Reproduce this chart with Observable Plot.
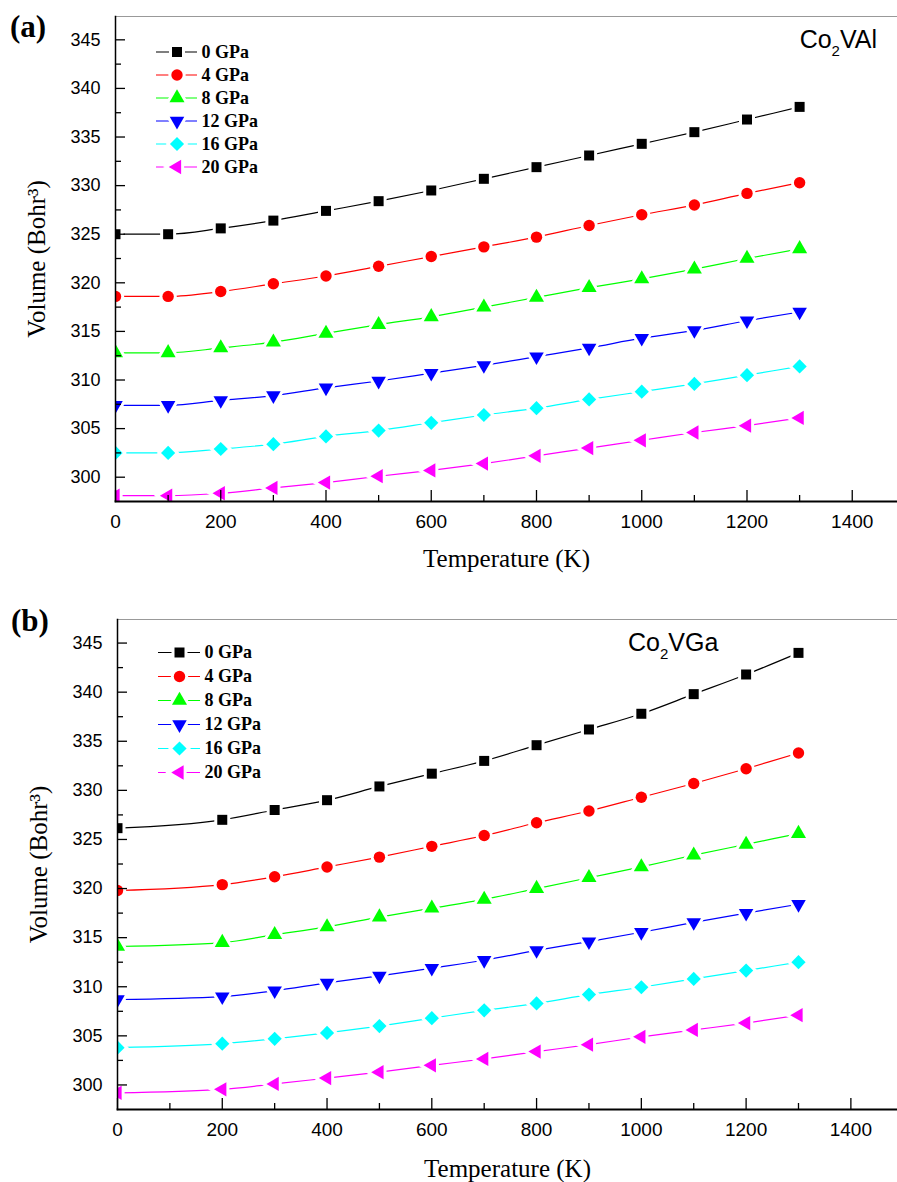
<!DOCTYPE html>
<html><head><meta charset="utf-8">
<script src="https://cdn.jsdelivr.net/npm/d3@7"></script>
<script src="https://cdn.jsdelivr.net/npm/@observablehq/plot@0.6"></script>
<style>
body{margin:0;background:#fff}
#wrap{position:relative;width:897px;height:1182px;overflow:hidden;background:#fff}
.panel{position:absolute;left:0}
.tag{position:absolute;font-family:"Liberation Serif","Times New Roman",serif;font-weight:bold;font-size:31px;line-height:30px;color:#000}
.comp{position:absolute;font-family:"Liberation Sans",Arial,sans-serif;font-size:25px;line-height:24px;white-space:nowrap;color:#000}
.comp sub{font-size:15px;vertical-align:baseline;position:relative;top:8px;line-height:0}
.leg{position:absolute}
g[aria-label="y-axis tick label"], g[aria-label="y-axis tick label"] text{font-family:"Liberation Sans",Arial,sans-serif !important;font-size:18px !important;fill:#000}
g[aria-label="x-axis tick label"], g[aria-label="x-axis tick label"] text{font-family:"Liberation Sans",Arial,sans-serif !important;font-size:19px !important;fill:#000}
g[aria-label="x-axis label"], g[aria-label="y-axis label"], g[aria-label="x-axis label"] text, g[aria-label="y-axis label"] text{font-family:"Liberation Serif","Times New Roman",serif !important;font-size:25px !important;fill:#000}
</style>
</head><body>
<div id="wrap">
  <div id="pa" class="panel" style="top:0"></div>
  <div id="pb" class="panel" style="top:590px"></div>
  <div class="tag" style="left:10px;top:12px">(a)</div>
  <div class="tag" style="left:11px;top:606px">(b)</div>
  <div class="comp" style="right:20px;top:27px">Co<sub>2</sub>VAl</div>
  <div class="comp" style="left:628px;top:630px">Co<sub>2</sub>VGa</div>
  <div id="la" class="leg" style="left:156px;top:37.5px"></div>
  <div id="lb" class="leg" style="left:158px;top:639.7px"></div>
</div>
<script>
// ---- data ----
const seriesNames = ["0 GPa", "4 GPa", "8 GPa", "12 GPa", "16 GPa", "20 GPa"];
const seriesColors = ["#000000", "#ff0000", "#00ff00", "#0000ff", "#00ffff", "#ff00ff"];

// panel (a) Co2VAl
const tempA = [0, 100, 200, 300, 400, 500, 600, 700, 800, 900, 1000, 1100, 1200, 1300];
const volA0  = [325.0, 325.0, 325.6, 326.4, 327.4, 328.4, 329.5, 330.7, 331.9, 333.1, 334.3, 335.5, 336.8, 338.1];
const volA4  = [318.6, 318.6, 319.1, 319.9, 320.7, 321.7, 322.7, 323.7, 324.7, 325.9, 327.0, 328.0, 329.2, 330.3];
const volA8  = [312.8, 312.8, 313.3, 313.9, 314.8, 315.7, 316.5, 317.5, 318.5, 319.5, 320.4, 321.4, 322.5, 323.5];
const volA12 = [307.4, 307.4, 307.9, 308.4, 309.2, 309.9, 310.7, 311.5, 312.4, 313.3, 314.3, 315.1, 316.1, 317.0];
const volA16 = [302.5, 302.5, 302.9, 303.4, 304.2, 304.8, 305.6, 306.4, 307.1, 308.0, 308.8, 309.6, 310.5, 311.4];
const volA20 = [298.1, 298.1, 298.35, 298.9, 299.45, 300.1, 300.7, 301.4, 302.2, 303.0, 303.8, 304.6, 305.3, 306.1];

// panel (b) Co2VGa
const tempB = [0, 200, 300, 400, 500, 600, 700, 800, 900, 1000, 1100, 1200, 1300];
const volB0  = [326.15, 327.0, 328.0, 329.0, 330.4, 331.7, 333.0, 334.6, 336.2, 337.8, 339.8, 341.8, 344.0];
const volB4  = [319.8, 320.4, 321.2, 322.2, 323.2, 324.3, 325.4, 326.7, 327.9, 329.3, 330.7, 332.2, 333.8];
const volB8  = [314.1, 314.5, 315.3, 316.1, 317.1, 318.0, 318.9, 320.0, 321.1, 322.2, 323.4, 324.5, 325.6];
const volB12 = [308.7, 309.0, 309.6, 310.4, 311.1, 311.9, 312.7, 313.7, 314.6, 315.55, 316.55, 317.5, 318.4];
const volB16 = [303.8, 304.2, 304.7, 305.3, 306.0, 306.8, 307.6, 308.3, 309.2, 309.95, 310.8, 311.65, 312.5];
const volB20 = [299.2, 299.55, 300.1, 300.7, 301.3, 302.0, 302.65, 303.4, 304.1, 304.9, 305.6, 306.3, 307.1];

// axis ticks
const yTicks = [300, 305, 310, 315, 320, 325, 330, 335, 340, 345];
const yMinor = [302.5, 307.5, 312.5, 317.5, 322.5, 327.5, 332.5, 337.5, 342.5];
const xTicks = [0, 200, 400, 600, 800, 1000, 1200, 1400];
const xMinor = [100, 300, 500, 700, 900, 1100, 1300];

// ---- symbols ----
const S3 = Math.sqrt(3);
const triDown = {draw(c, size) { const y = -Math.sqrt(size / (S3 * 3)); c.moveTo(0, -y * 2); c.lineTo(-S3 * y, y); c.lineTo(S3 * y, y); c.closePath(); }};
const triLeft = {draw(c, size) { const y = -Math.sqrt(size / (S3 * 3)); c.moveTo(y * 2, 0); c.lineTo(-y, -S3 * y); c.lineTo(-y, S3 * y); c.closePath(); }};
const symbols = ["square", "circle", "triangle", triDown, "diamond2", triLeft];
const radii = [5.64, 5.7, 5.6, 5.4, 6.4, 5.3];

function panel(temps, vols, {height, marginTop, marginBottom, marginLeft, xmax, ylab, xlab}) {
  const marks = [];
  const data = vols.map(v => v.map((val, j) => ({T: temps[j], V: val})));
  data.forEach((d, i) => marks.push(Plot.line(d, {x: "T", y: "V", stroke: seriesColors[i], strokeWidth: 1.2, curve: "monotone-x", clip: true})));
  data.forEach((d, i) => marks.push(Plot.dot(d, {x: "T", y: "V", symbol: symbols[i], r: radii[i], fill: seriesColors[i], stroke: "white", strokeWidth: 6, paintOrder: "stroke", clip: true})));
  marks.push(
    Plot.frame({anchor: "top", stroke: "#999", strokeWidth: 1.2}),
    Plot.axisY({ticks: yTicks, tickSize: 0, tickPadding: 15, fontSize: 18, label: "Volume (Bohr³)", labelAnchor: "center", labelOffset: ylab, labelArrow: "none"}),
    Plot.axisY({ticks: yTicks, tickSize: -10, tickFormat: () => "", label: null, strokeWidth: 1.3}),
    Plot.axisY({ticks: yMinor, tickSize: -6, tickFormat: () => "", label: null, strokeWidth: 1.3}),
    Plot.axisX({ticks: xTicks, tickSize: 0, tickPadding: 13, fontSize: 19, tickFormat: d => String(d), label: "Temperature (K)", labelAnchor: "center", labelOffset: xlab, labelArrow: "none"}),
    Plot.axisX({ticks: xTicks, tickSize: -11, tickFormat: () => "", label: null, strokeWidth: 1.3}),
    Plot.axisX({ticks: xMinor, tickSize: -6, tickFormat: () => "", label: null, strokeWidth: 1.3}),
    Plot.frame({anchor: "left", stroke: "#000", strokeWidth: 1.5}),
    Plot.frame({anchor: "bottom", stroke: "#000", strokeWidth: 1.8})
  );
  return Plot.plot({
    width: 897, height, marginTop, marginBottom, marginLeft, marginRight: 0,
    style: {background: "transparent", color: "#000"},
    x: {domain: [0, xmax]},
    y: {domain: [297.5, 347.4]},
    marks
  });
}

function legend(rowH, lineW) {
  const items = seriesNames.map((n, i) => ({n, i}));
  const marks = [];
  items.forEach((it, i) => marks.push(Plot.ruleY([it], {y: "n", stroke: seriesColors[i], strokeWidth: 1.2})));
  items.forEach((it, i) => marks.push(Plot.dot([it], {y: "n", frameAnchor: "middle", symbol: symbols[i], r: radii[i], fill: seriesColors[i], stroke: "white", strokeWidth: 6, paintOrder: "stroke"})));
  marks.push(Plot.text(items, {y: "n", text: "n", frameAnchor: "right", textAnchor: "start", dx: 4, fontFamily: "Liberation Serif, Times New Roman, serif", fontWeight: "bold", fontSize: 18, fill: "#000"}));
  return Plot.plot({
    width: lineW + 110, height: rowH * 6, marginLeft: 0, marginRight: 110, marginTop: 0, marginBottom: 0,
    style: {background: "transparent", overflow: "visible"},
    y: {type: "band", domain: seriesNames, padding: 0, axis: null},
    marks
  });
}

document.getElementById("pa").append(panel(tempA, [volA0, volA4, volA8, volA12, volA16, volA20],
  {height: 590, marginTop: 16, marginBottom: 89, marginLeft: 115, xmax: 1486, ylab: 88, xlab: 65}));
document.getElementById("pb").append(panel(tempB, [volB0, volB4, volB8, volB12, volB16, volB20],
  {height: 592, marginTop: 29, marginBottom: 73, marginLeft: 117, xmax: 1489, ylab: 88, xlab: 67}));
document.getElementById("la").append(legend(23.6, 41));
document.getElementById("lb").append(legend(24.06, 42));
</script>
</body></html>
